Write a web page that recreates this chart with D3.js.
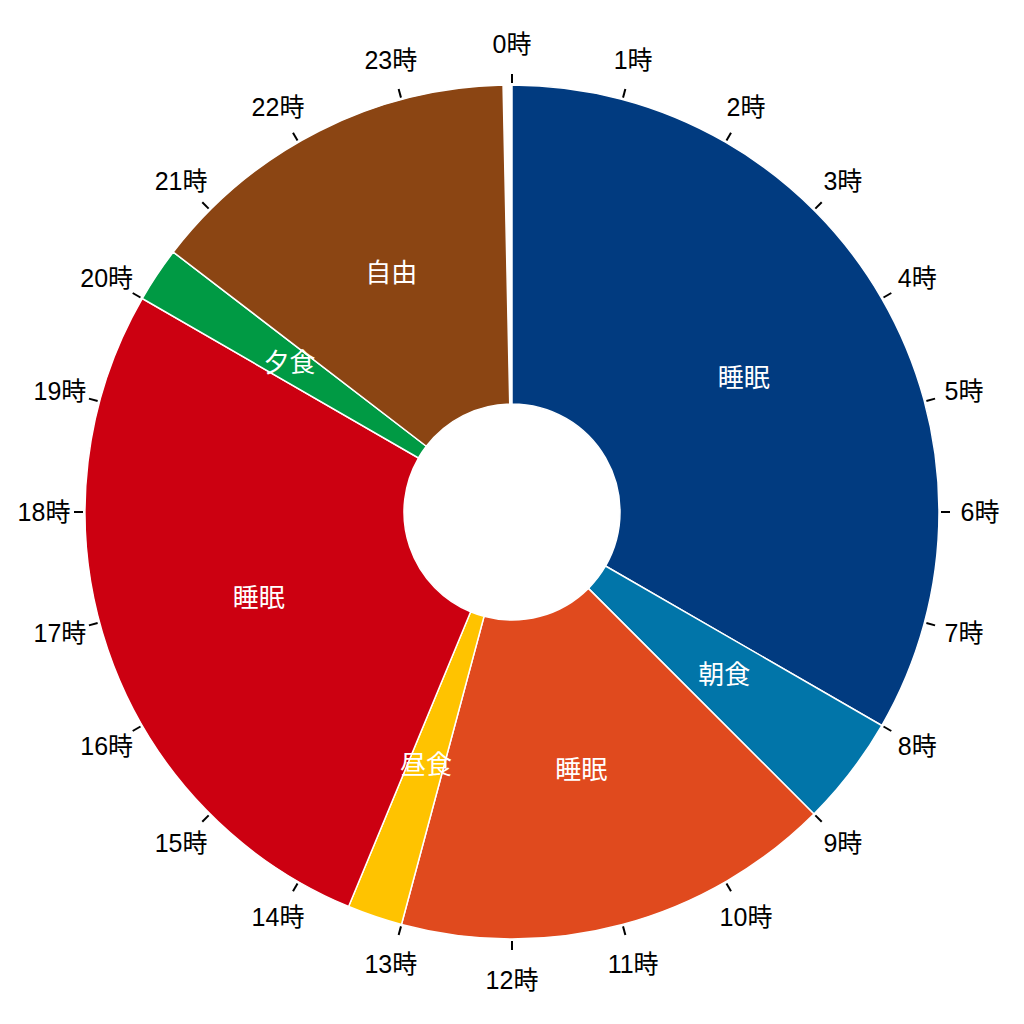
<!DOCTYPE html>
<html>
<head>
<meta charset="utf-8">
<script src="https://cdn.jsdelivr.net/npm/d3@7"></script>
<style>
  body { margin: 0; background: #fff; }
  text { font-family: "Liberation Sans", Arial, "Noto Sans CJK JP", sans-serif; }
</style>
</head>
<body>
<script>
// activities of the day, in hours from 0時
const activities = ["睡眠", "朝食", "睡眠", "昼食", "睡眠", "夕食", "自由"];
const startHours = [0, 8, 9, 13, 13.5, 20, 20.5];
const endHours   = [8, 9, 13, 13.5, 20, 20.5, 23.92];
const colors = ["#013b80", "#0175a9", "#e04a1e", "#ffc300", "#cc0011", "#009a44", "#8b4513"];
const hourLabels = d3.range(24).map(h => h + "時");

const width = 1024, height = 1024;
const cx = 512, cy = 512;
const outerR = 427, innerR = 108;

let data = activities.map((name, i) => ({name, start: startHours[i], end: endHours[i], color: colors[i]}));

const angle = d3.scaleLinear().domain([0, 24]).range([0, 2 * Math.PI]);

const svg = d3.select("body").append("svg")
    .attr("width", width)
    .attr("height", height);

const g = svg.append("g").attr("transform", `translate(${cx},${cy})`);

const arc = d3.arc()
    .innerRadius(innerR)
    .outerRadius(outerR)
    .startAngle(d => angle(d.start))
    .endAngle(d => angle(d.end));

g.selectAll("path.slice")
    .data(data)
    .enter().append("path")
    .attr("class", "slice")
    .attr("d", arc)
    .attr("fill", d => d.color)
    .attr("stroke", "#fff")
    .attr("stroke-width", 1.5);

g.selectAll("text.slice-label")
    .data(data)
    .enter().append("text")
    .attr("class", "slice-label")
    .attr("transform", d => `translate(${arc.centroid(d)})`)
    .attr("text-anchor", "middle")
    .attr("dominant-baseline", "central")
    .attr("fill", "#fff")
    .attr("font-size", 26)
    .text(d => d.name);

// clock ticks and hour labels
let hours = d3.range(24);

g.selectAll("line.tick")
    .data(hours)
    .enter().append("line")
    .attr("class", "tick")
    .attr("x1", h => 429 * Math.sin(angle(h)))
    .attr("y1", h => -429 * Math.cos(angle(h)))
    .attr("x2", h => 438 * Math.sin(angle(h)))
    .attr("y2", h => -438 * Math.cos(angle(h)))
    .attr("stroke", "#000")
    .attr("stroke-width", 2);

g.selectAll("text.hour")
    .data(hours)
    .enter().append("text")
    .attr("class", "hour")
    .attr("x", h => 468 * Math.sin(angle(h)))
    .attr("y", h => -468 * Math.cos(angle(h)))
    .attr("text-anchor", "middle")
    .attr("dominant-baseline", "central")
    .attr("font-size", 25)
    .attr("fill", "#000")
    .text(h => hourLabels[h]);
</script>
</body>
</html>
